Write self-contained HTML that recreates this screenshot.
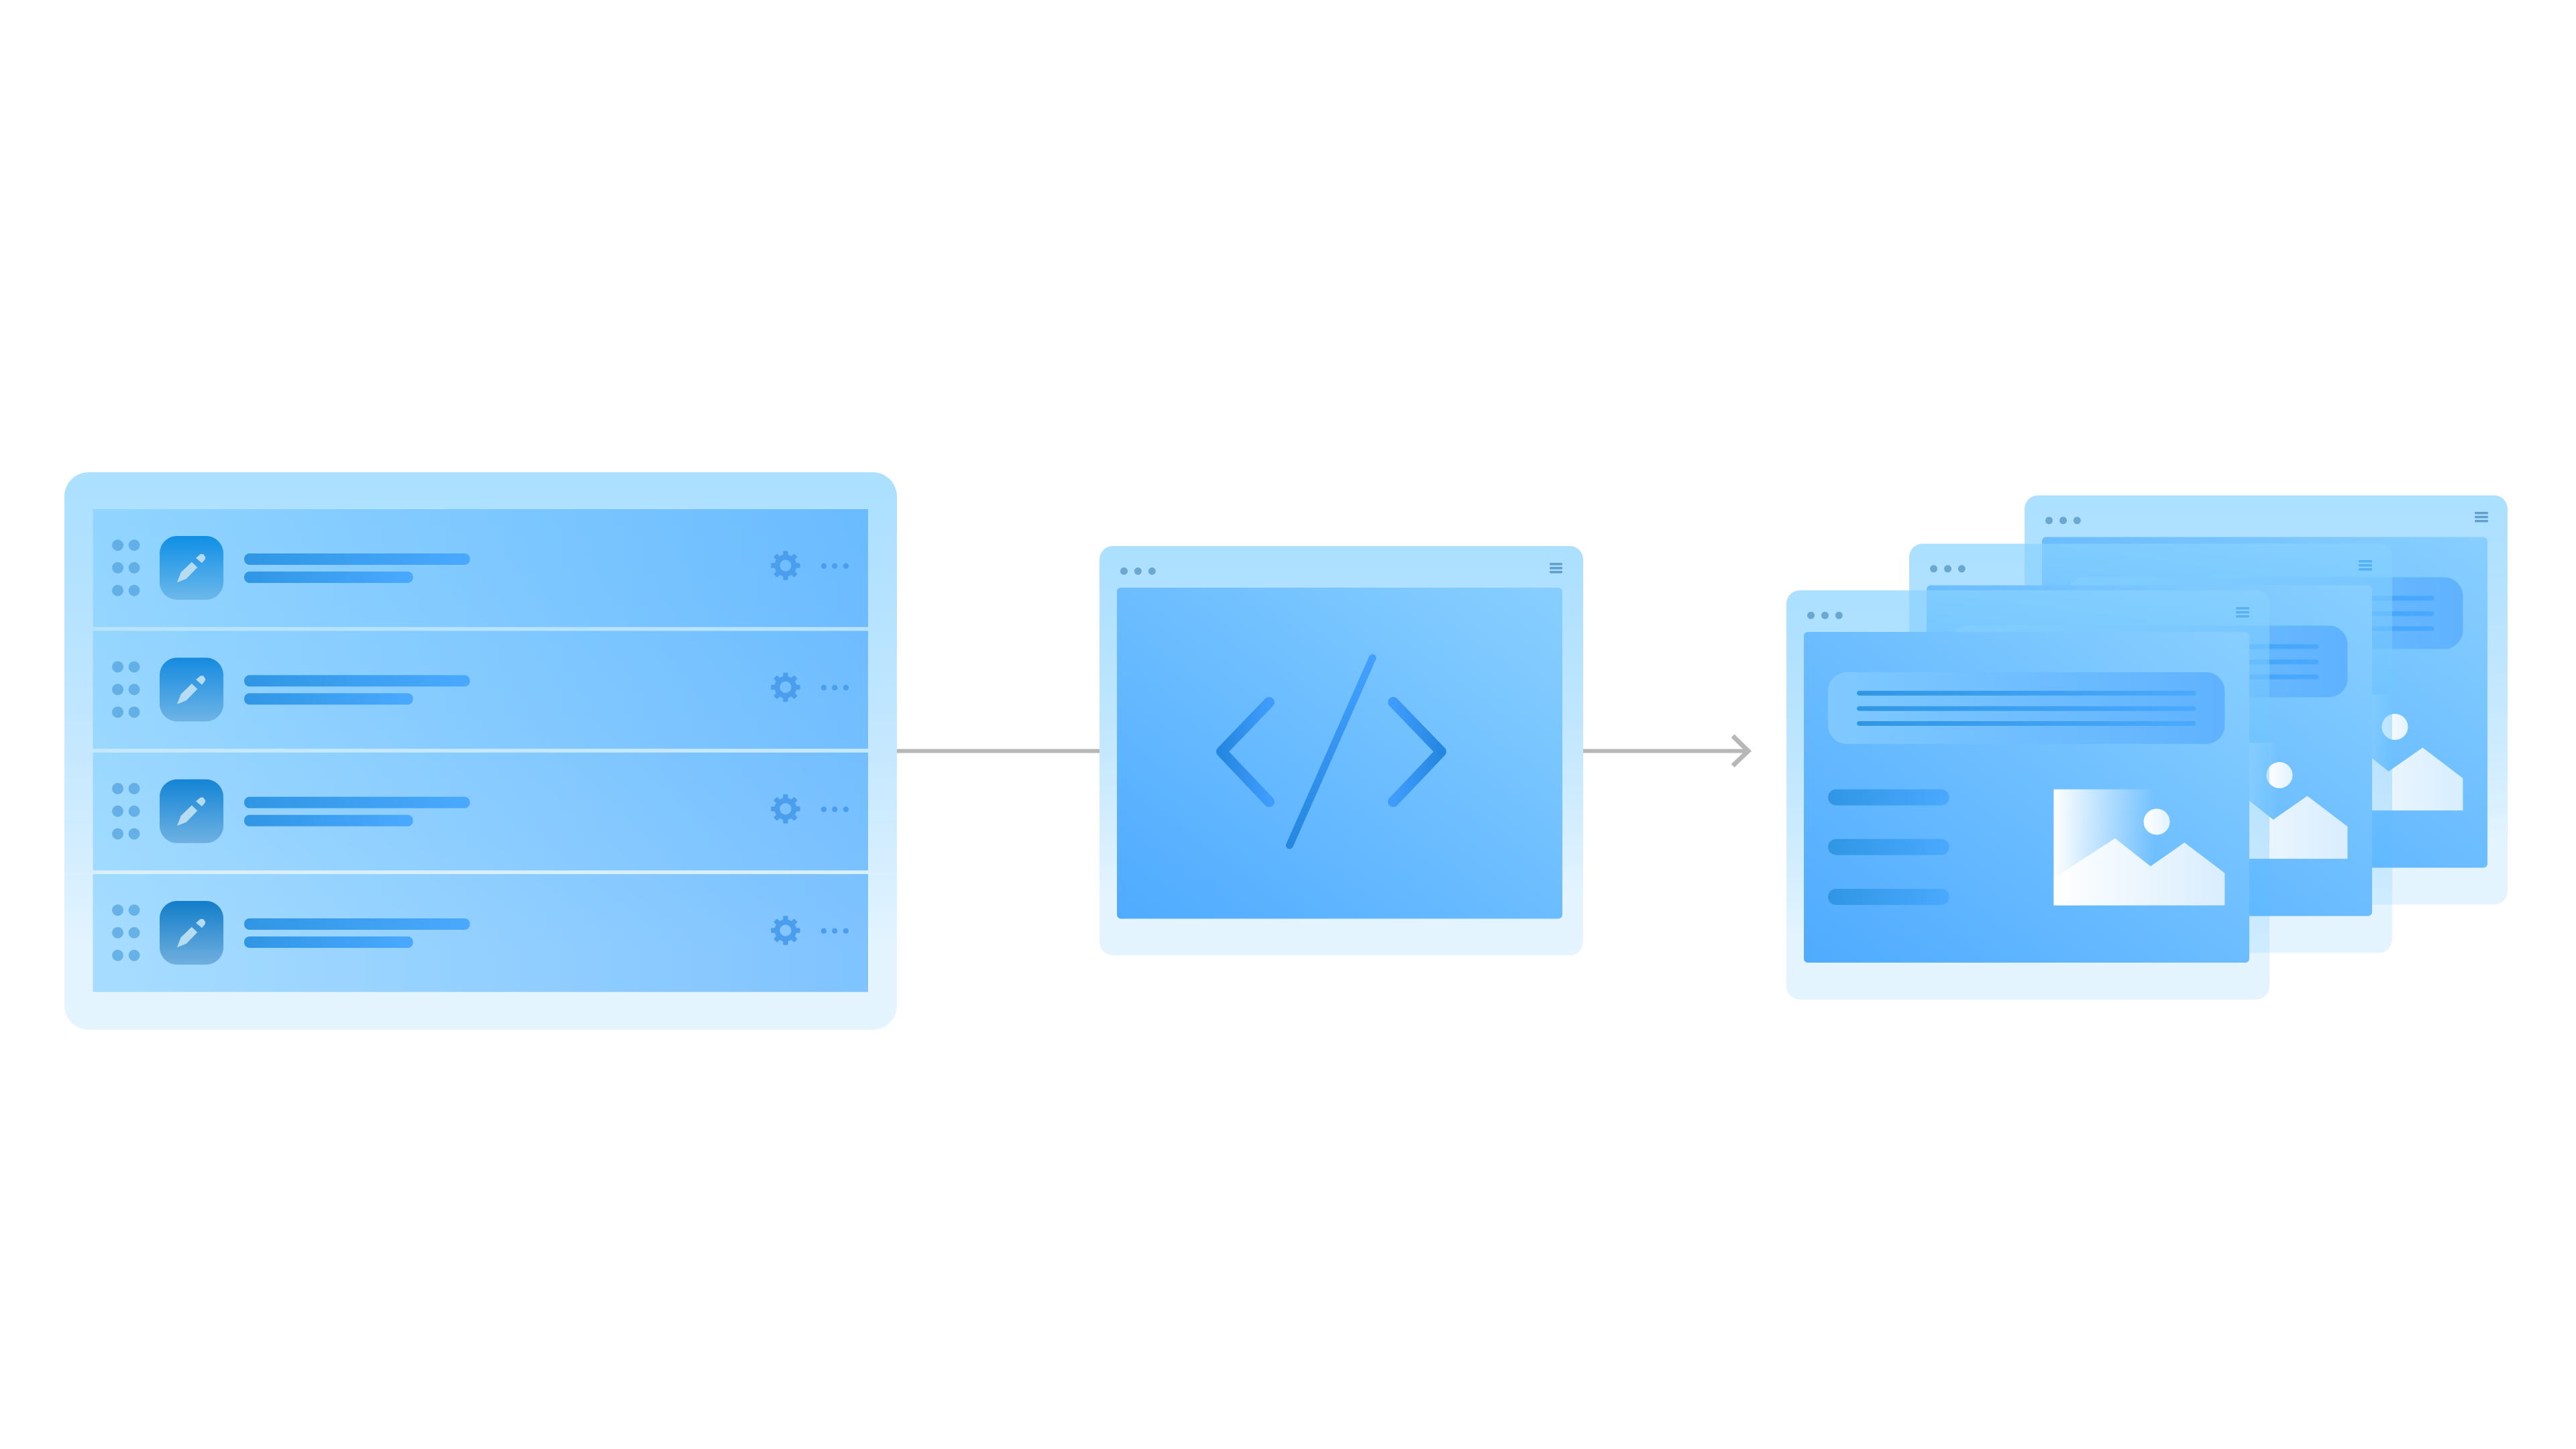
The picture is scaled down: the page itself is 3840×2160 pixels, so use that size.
<!DOCTYPE html>
<html><head><meta charset="utf-8"><style>html,body{margin:0;padding:0;background:#fff}svg{display:block}</style></head>
<body>
<svg xmlns="http://www.w3.org/2000/svg" width="3840" height="2160" viewBox="0 0 3840 2160">
<defs>
<linearGradient id="frame" x1="0" y1="0" x2="0" y2="1"><stop offset="0" stop-color="#88d2ff" stop-opacity=".7"/><stop offset=".86" stop-color="#4fb8ff" stop-opacity=".15"/><stop offset="1" stop-color="#4fb8ff" stop-opacity=".15"/></linearGradient>
<linearGradient id="row" x1="0" y1="0" x2="1" y2="0"><stop offset="0" stop-color="#7ecdff" stop-opacity=".6"/><stop offset="1" stop-color="#3ca2ff" stop-opacity=".6"/></linearGradient>
<linearGradient id="inner" x1="0" y1="1" x2="1" y2="0"><stop offset="0" stop-color="#4fabff"/><stop offset="1" stop-color="#88cfff"/></linearGradient>
<linearGradient id="bar" x1="0" y1="0" x2="1" y2="0"><stop offset="0" stop-color="#3096e4"/><stop offset="1" stop-color="#4aa9fe"/></linearGradient>
<linearGradient id="pill" x1="0" y1="0" x2="1" y2="0"><stop offset="0" stop-color="#7fc9ff"/><stop offset="1" stop-color="#5fb2ff"/></linearGradient>
<linearGradient id="fade" x1="0" y1="0" x2="1" y2="0"><stop offset="0" stop-color="#fff"/><stop offset=".59" stop-color="#fff" stop-opacity="0"/></linearGradient>
<linearGradient id="mnt" x1="0" y1="0" x2="1" y2="0"><stop offset="0" stop-color="#fff"/><stop offset="1" stop-color="#d8edfe"/></linearGradient>
<linearGradient id="sun" x1="0" y1="0" x2="1" y2="0"><stop offset="0" stop-color="#fff"/><stop offset="1" stop-color="#e2f2ff"/></linearGradient>
<linearGradient id="i1" x1="0" y1="0" x2="0" y2="1"><stop offset="0" stop-color="#0f8fe6"/><stop offset="1" stop-color="#6cb8ea"/></linearGradient>
<linearGradient id="i2" x1="0" y1="0" x2="0" y2="1"><stop offset="0" stop-color="#168ae0"/><stop offset="1" stop-color="#6db4e6"/></linearGradient>
<linearGradient id="i3" x1="0" y1="0" x2="0" y2="1"><stop offset="0" stop-color="#1484d5"/><stop offset="1" stop-color="#6eb1e3"/></linearGradient>
<linearGradient id="i4" x1="0" y1="0" x2="0" y2="1"><stop offset="0" stop-color="#127dc9"/><stop offset="1" stop-color="#70afdf"/></linearGradient>
<linearGradient id="chL" x1="0" y1="0" x2="1" y2="0"><stop offset="0" stop-color="#2587e0"/><stop offset="1" stop-color="#3f9cfc"/></linearGradient>
<linearGradient id="chR" x1="1" y1="0" x2="0" y2="0"><stop offset="0" stop-color="#2587e0"/><stop offset="1" stop-color="#3f9cfc"/></linearGradient>
<linearGradient id="sl" x1="0" y1="0" x2="0" y2="1"><stop offset="0" stop-color="#43a0ff"/><stop offset="1" stop-color="#2587e0"/></linearGradient>

<g id="gear" fill="#4a9eed">
  <circle cx="0" cy="0" r="12.5" fill="none" stroke="#4a9eed" stroke-width="8"/>
  <rect x="-3.7" y="-21.7" width="7.4" height="9" rx="1.5"/>
  <rect x="-3.7" y="-21.7" width="7.4" height="9" rx="1.5" transform="rotate(45)"/>
  <rect x="-3.7" y="-21.7" width="7.4" height="9" rx="1.5" transform="rotate(90)"/>
  <rect x="-3.7" y="-21.7" width="7.4" height="9" rx="1.5" transform="rotate(135)"/>
  <rect x="-3.7" y="-21.7" width="7.4" height="9" rx="1.5" transform="rotate(180)"/>
  <rect x="-3.7" y="-21.7" width="7.4" height="9" rx="1.5" transform="rotate(225)"/>
  <rect x="-3.7" y="-21.7" width="7.4" height="9" rx="1.5" transform="rotate(270)"/>
  <rect x="-3.7" y="-21.7" width="7.4" height="9" rx="1.5" transform="rotate(315)"/>
</g>

<g id="rowc">
  <rect x="138.5" y="759" width="1155.5" height="175.7" fill="url(#row)"/>
  <g fill="#4da0dc" fill-opacity=".7">
    <circle cx="175.5" cy="812.7" r="8.4"/><circle cx="200" cy="812.7" r="8.4"/>
    <circle cx="175.5" cy="846.4" r="8.4"/><circle cx="200" cy="846.4" r="8.4"/>
    <circle cx="175.5" cy="880.2" r="8.4"/><circle cx="200" cy="880.2" r="8.4"/>
  </g>
  <rect x="364" y="825" width="336.5" height="17" rx="8" fill="url(#bar)"/>
  <rect x="364" y="852" width="251.7" height="17" rx="8" fill="url(#bar)"/>
  <use href="#gear" transform="translate(1171 843)"/>
  <g fill="#4a9eed"><circle cx="1228" cy="843.7" r="4.2"/><circle cx="1244.3" cy="843.7" r="4.2"/><circle cx="1261" cy="843.7" r="4.2"/></g>
</g>

<g id="pen" fill="#b5dcf3">
  <polygon points="263.9,868.3 269.7,853.3 285.8,837.7 294.3,845.7 277.8,862.7"/>
  <polygon points="292,831.7 298.8,826 303,826 306.3,830.7 305.4,834 301,839.3"/>
</g>

<g id="win">
  <rect x="0" y="0" width="720" height="610" rx="20" fill="url(#frame)"/>
  <g fill="#6ba8d0"><circle cx="36.5" cy="37.4" r="5.5"/><circle cx="57.5" cy="37.4" r="5.5"/><circle cx="78.3" cy="37.4" r="5.5"/></g>
  <rect x="26" y="62" width="664" height="493" rx="6" fill="url(#inner)"/>
  <rect x="62" y="122" width="591.4" height="107" rx="28" fill="url(#pill)"/>
  <rect x="105" y="149.7" width="505.6" height="7.2" rx="3.6" fill="url(#bar)"/>
  <rect x="105" y="172.7" width="505.6" height="7" rx="3.5" fill="url(#bar)"/>
  <rect x="105" y="195" width="505.6" height="7" rx="3.5" fill="url(#bar)"/>
  <rect x="62" y="296.6" width="180.7" height="24" rx="12" fill="url(#bar)"/>
  <rect x="62" y="370.6" width="180.7" height="24" rx="12" fill="url(#bar)"/>
  <rect x="62" y="445" width="180.7" height="24" rx="12" fill="url(#bar)"/>
  <rect x="398.4" y="296.6" width="255" height="173" fill="url(#fade)"/>
  <polygon points="398.4,429 489.9,369.6 542.7,411.4 593.4,376 653.4,421.6 653.4,469.6 398.4,469.6" fill="url(#mnt)"/>
  <circle cx="552" cy="345" r="19.5" fill="url(#sun)"/>
</g>
</defs>

<rect width="3840" height="2160" fill="#fff"/>

<!-- connectors -->
<rect x="1337" y="1116.5" width="302" height="6" fill="#b7b7b7"/>
<rect x="2360" y="1116.5" width="248" height="6" fill="#b7b7b7"/>
<polyline points="2583,1097 2606,1119.5 2583,1141.5" fill="none" stroke="#b7b7b7" stroke-width="7"/>

<!-- left panel -->
<rect x="96" y="704" width="1241" height="831" rx="36" fill="url(#frame)"/>
<use href="#rowc"/>
<use href="#rowc" y="181.4"/>
<use href="#rowc" y="362.8"/>
<use href="#rowc" y="544"/>
<rect x="238" y="799" width="95" height="95" rx="26" fill="url(#i1)"/>
<rect x="238" y="980.4" width="95" height="95" rx="26" fill="url(#i2)"/>
<rect x="238" y="1161.8" width="95" height="95" rx="26" fill="url(#i3)"/>
<rect x="238" y="1343" width="95" height="95" rx="26" fill="url(#i4)"/>
<use href="#pen"/>
<use href="#pen" y="181.4"/>
<use href="#pen" y="362.8"/>
<use href="#pen" y="544"/>

<!-- middle window -->
<rect x="1639" y="814" width="721" height="610" rx="20" fill="url(#frame)"/>
<g fill="#6ba8d0"><circle cx="1675.5" cy="851.4" r="5.5"/><circle cx="1696.4" cy="851.4" r="5.5"/><circle cx="1717.3" cy="851.4" r="5.5"/></g>
<g fill="#629fcf"><rect x="2310" y="839" width="19" height="3.6" rx="1.5"/><rect x="2310" y="845" width="19" height="3.8" rx="1.5"/><rect x="2310" y="851" width="19" height="3.6" rx="1.5"/></g>
<rect x="1665" y="876" width="664" height="493.5" rx="6" fill="url(#inner)"/>
<polyline points="1891.8,1047 1821,1120.4 1891.8,1195" fill="none" stroke="url(#chL)" stroke-width="16" stroke-linecap="round" stroke-linejoin="round"/>
<polyline points="2077,1047 2148,1120.4 2077,1195" fill="none" stroke="url(#chR)" stroke-width="16" stroke-linecap="round" stroke-linejoin="round"/>
<line x1="2046" y1="980.7" x2="1922.4" y2="1260" stroke="url(#sl)" stroke-width="11" stroke-linecap="round"/>

<!-- stacked windows -->
<use href="#win" transform="translate(3018 738.5)"/>
<g fill="#629fcf"><rect x="3689" y="763" width="20" height="3.5" rx="1.5"/><rect x="3689" y="769" width="20" height="3.5" rx="1.5"/><rect x="3689" y="775" width="20" height="3.5" rx="1.5"/></g>

<use href="#win" transform="translate(2846 810.5)"/>
<g fill="#52b0f4"><rect x="3516" y="835" width="20" height="3.5" rx="1.5"/><rect x="3516" y="841" width="20" height="3.5" rx="1.5"/><rect x="3516" y="847" width="20" height="3.5" rx="1.5"/></g>

<use href="#win" transform="translate(2663 880)"/>
<g fill="#5cb0f0"><rect x="3333" y="905" width="20" height="3.5" rx="1.5"/><rect x="3333" y="911" width="20" height="3.5" rx="1.5"/><rect x="3333" y="917" width="20" height="3.5" rx="1.5"/></g>
</svg>
</body></html>
